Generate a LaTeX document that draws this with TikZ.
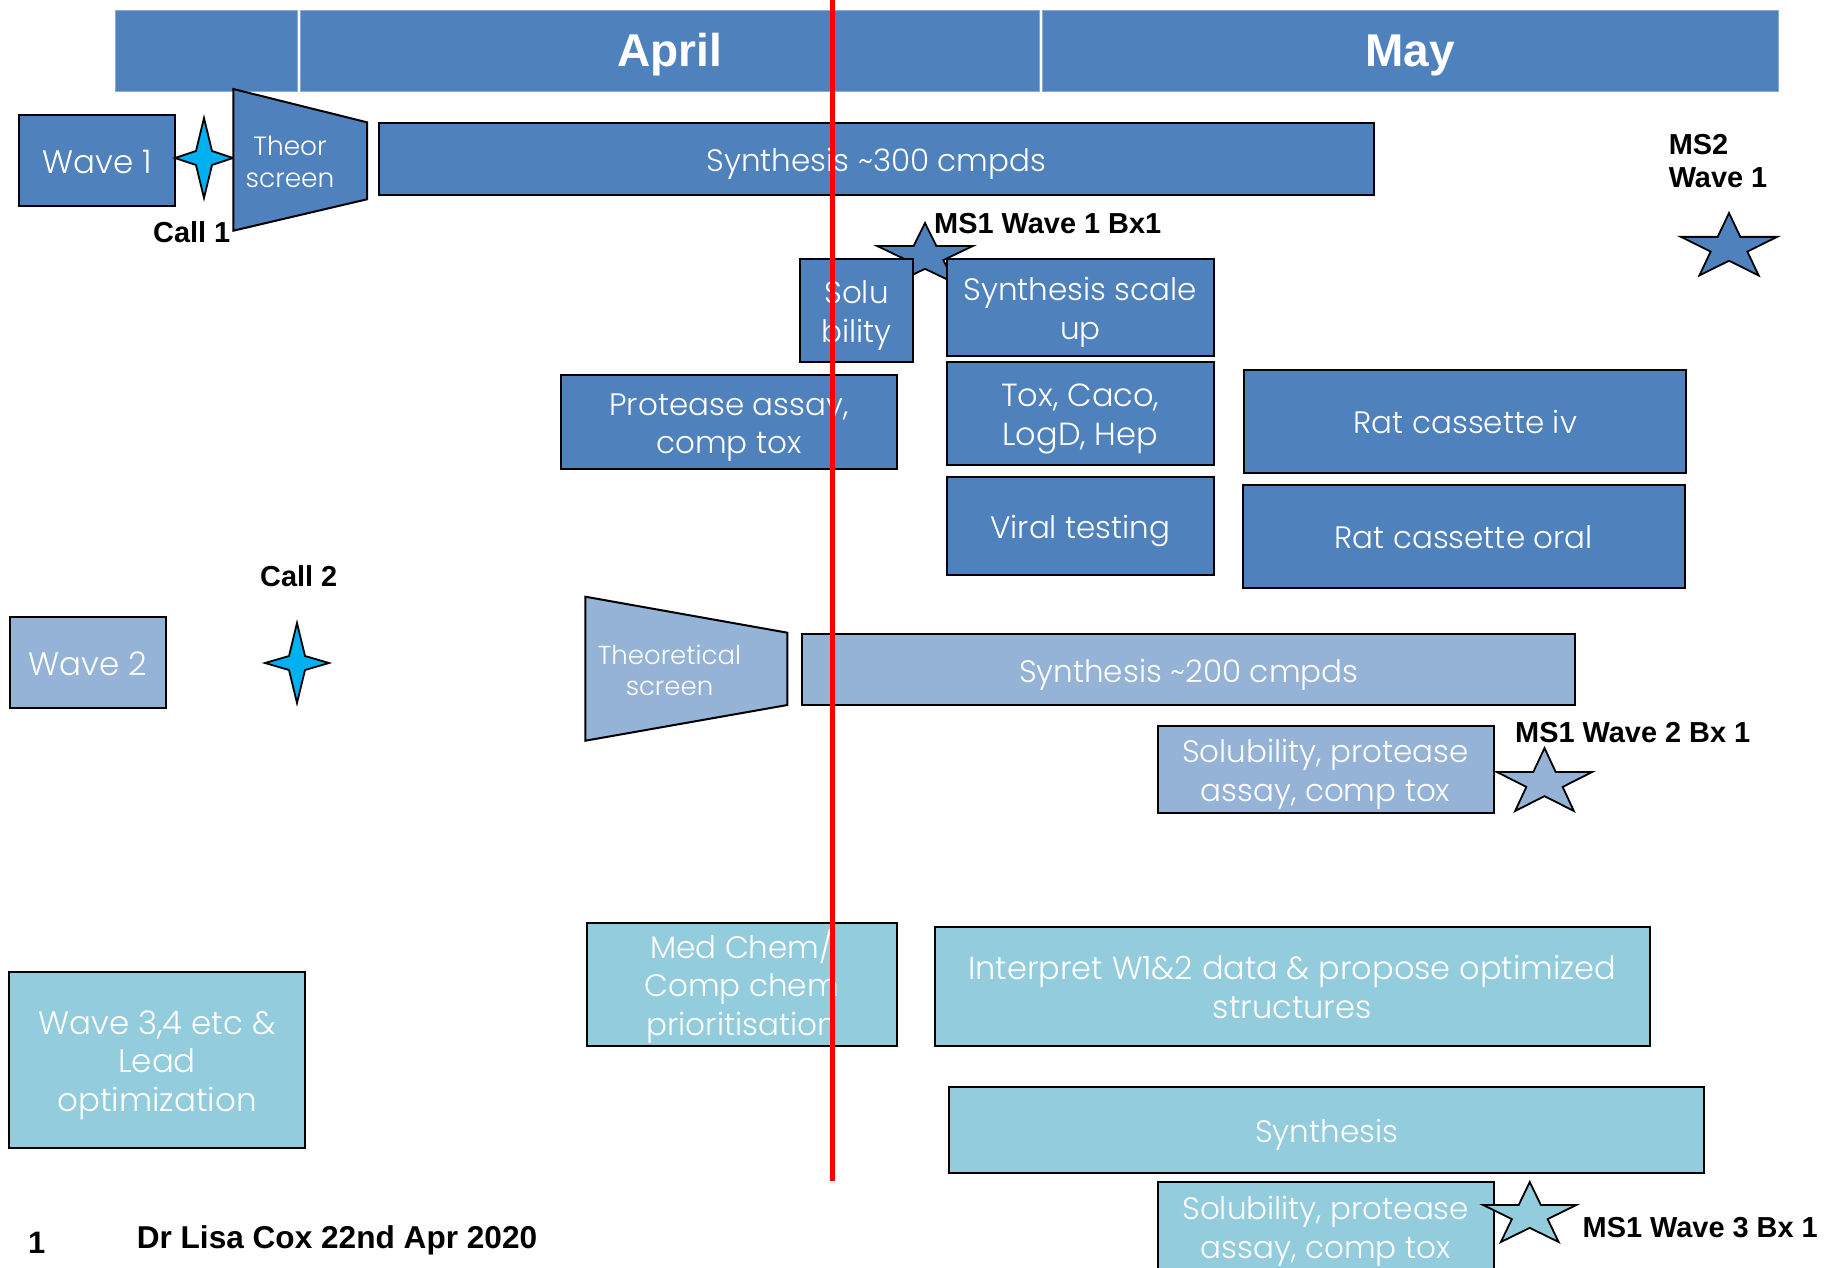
\documentclass[tikz,border=0pt]{standalone}
\usepackage{fontspec}
\setmainfont{Liberation Sans}
\IfFontExistsTF{Poppins Light}{\newfontfamily\gothic{Poppins Light}}{\newfontfamily\gothic{Poppins}}
\definecolor{dblue}{HTML}{4F81BD}
\definecolor{lblue}{HTML}{95B3D7}
\definecolor{aqua}{HTML}{93CDDD}
\definecolor{cyanstar}{HTML}{00B0F0}
\definecolor{hdredge}{HTML}{8AA9D6}
\newcommand\topstrut{\rule{0pt}{33.2pt}}
\newcommand\fivestar[5]{%
  \begin{scope}[shift={(#1,#2)},xscale=#3,yscale=#4]
  \draw[starline,fill=#5] (0.5,0) -- (0.618,0.382) -- (1,0.382) -- (0.691,0.618) -- (0.809,1) -- (0.5,0.764) -- (0.191,1) -- (0.309,0.618) -- (0,0.382) -- (0.382,0.382) -- cycle;
  \end{scope}}
\newcommand\fourstar[4]{%
  \begin{scope}[shift={(#1,#2)}]
  \draw[starline,fill=cyanstar] (0,-#4) -- (8,-7) -- (#3,0) -- (8,7) -- (0,#4) -- (-8,7) -- (-#3,0) -- (-8,-7) -- cycle;
  \end{scope}}
\tikzset{
  box/.style={draw=black, line width=2pt, text=white, align=center, inner sep=0pt,
              font=\gothic\fontsize{31}{38.5}\selectfont,
              execute at begin node={\topstrut},
              execute at end node={\rule[-7.8pt]{0pt}{7.8pt}}},
  dk/.style={box, fill=dblue},
  lt/.style={box, fill=lblue},
  aq/.style={box, fill=aqua},
  big/.style={font=\gothic\fontsize{32.5}{38.5}\selectfont},
  hdr/.style={fill=dblue, draw=hdredge, line width=1pt, inner sep=0pt, text=white,
              font=\bfseries\fontsize{46}{50}\selectfont, minimum height=81pt},
  lbl/.style={font=\bfseries\fontsize{28.9}{33}\selectfont, inner sep=0pt, text=black, align=left},
  trap/.style={draw=black, line width=2pt, line join=miter},
  traptext/.style={text=white, align=center, inner sep=0pt},
  starline/.style={draw=black, line width=1.8pt, line join=miter},
}
\begin{document}
\begin{tikzpicture}[x=1pt,y=-1pt]
\useasboundingbox (0,0) rectangle (1824,1267);
\fill[white] (0,0) rectangle (1824,1267);

% header
\node[hdr, minimum width=182.5pt] (hdr0) at (206.25,50.5) {};
\node[hdr, minimum width=739.3pt] (april) at (669.65,50.5) {};
\node[hdr, minimum width=736pt] (may) at (1410,50.5) {};
\node[hdr, draw=none, fill=none, minimum height=0pt, anchor=base] (aprilt) at (669.65,66) {April};
\node[hdr, draw=none, fill=none, minimum height=0pt, anchor=base] (mayt) at (1410,66) {May};

% wave 1 row
\node[dk, big, minimum width=156pt, minimum height=91pt] (wave1) at (97,160.5) {Wave 1};
\fourstar{204}{158}{29}{40}
\draw[trap, fill=dblue] (233.3,89) -- (367,122.3) -- (367,199.3) -- (233.3,230.7) -- cycle;
\node[traptext, font=\gothic\fontsize{26.4}{31.5}\selectfont] (theor1) at (290,162) {Theor\\screen};
\node[lbl, anchor=base west] (call1) at (153,242) {Call 1};
\node[dk, minimum width=995pt, minimum height=72.5pt] (synth300) at (876.5,158.75) {Synthesis \textasciitilde 300 cmpds};

\fivestar{877}{223}{96}{60}{dblue}
\node[lbl, anchor=base west] (ms1w1) at (934,233) {MS1 Wave 1 Bx1};
\node[dk, minimum width=113pt, minimum height=103pt] (solu) at (856.5,310.5) {\topstrut Solu\\bility};
\node[dk, minimum width=267pt, minimum height=97pt] (scaleup) at (1080.3,307.5) {\topstrut Synthesis scale\\up};
\node[dk, font=\gothic\fontsize{32}{38.5}\selectfont, minimum width=267pt, minimum height=103pt] (tox) at (1080.3,413.5) {\topstrut Tox, Caco,\\LogD, Hep};
\node[dk, minimum width=267pt, minimum height=98pt] (viral) at (1080.3,526) {Viral testing};
\node[dk, minimum width=336pt, minimum height=94pt] (protease) at (729,422) {\topstrut Protease assay,\\comp tox};
\node[dk, minimum width=442pt, minimum height=103pt] (rativ) at (1465.3,421) {Rat cassette iv};
\node[dk, minimum width=442pt, minimum height=103pt] (ratoral) at (1463.7,536) {Rat cassette oral};

\node[lbl, anchor=center] (ms2) at (1718,161.5) {MS2\\Wave 1};
\fivestar{1681}{213}{96}{62.5}{dblue}

% wave 2 row
\node[lt, big, minimum width=156pt, minimum height=91pt] (wave2) at (88,662.5) {Wave 2};
\node[lbl, anchor=base west] (call2) at (260,586) {Call 2};
\fourstar{297}{663}{32}{40}
\draw[trap, fill=lblue] (585.4,596.7) -- (787.4,632.7) -- (787.4,705) -- (585.4,740.7) -- cycle;
\node[traptext, font=\gothic\fontsize{26}{31}\selectfont] (theor2) at (669.5,670) {Theoretical\\screen};
\node[lt, minimum width=772.5pt, minimum height=71.5pt] (synth200) at (1188.7,669.7) {Synthesis \textasciitilde 200 cmpds};
\node[lt, minimum width=336pt, minimum height=87pt] (sol2) at (1325.5,769.4) {\topstrut Solubility, protease\\assay, comp tox};
\fivestar{1497}{748}{95}{63}{lblue}
\node[lbl, anchor=base west] (ms1w2) at (1515,742.7) {MS1 Wave 2 Bx 1};

% wave 3 row
\node[aq, minimum width=310pt, minimum height=123pt] (medchem) at (741.7,984.2) {\topstrut Med Chem/\\Comp chem\\prioritisation};
\node[aq, big, minimum width=295.6pt, minimum height=176pt] (wave3) at (157,1060.3) {\topstrut Wave 3,4 etc \&\\Lead\\optimization};
\node[aq, font=\gothic\fontsize{32}{38.5}\selectfont, minimum width=715pt, minimum height=119pt] (interpret) at (1292.2,986.2) {\topstrut Interpret W1\&2 data \& propose optimized\\structures};
\node[aq, minimum width=755.5pt, minimum height=86.6pt] (synth3) at (1326.6,1130) {Synthesis};
\node[aq, minimum width=335.6pt, minimum height=88pt] (sol3) at (1325.7,1226.2) {\topstrut Solubility, protease\\assay, comp tox};
\fivestar{1483}{1182}{93.5}{60}{aqua}
\node[lbl, anchor=base west] (ms1w3) at (1582.5,1237) {MS1 Wave 3 Bx 1};

% footer
\node[lbl, font=\bfseries\fontsize{31}{35}\selectfont, anchor=base west] (pagenum) at (28,1253) {1};
\node[lbl, font=\bfseries\fontsize{31.6}{35}\selectfont, anchor=base west] (author) at (136.6,1248) {Dr Lisa Cox 22nd Apr 2020};

% today line
\coordinate (redtop) at (832,0);
\coordinate (redbot) at (832,1181);
\draw[red, line width=5pt] (redtop) -- (redbot);
\end{tikzpicture}
\end{document}
